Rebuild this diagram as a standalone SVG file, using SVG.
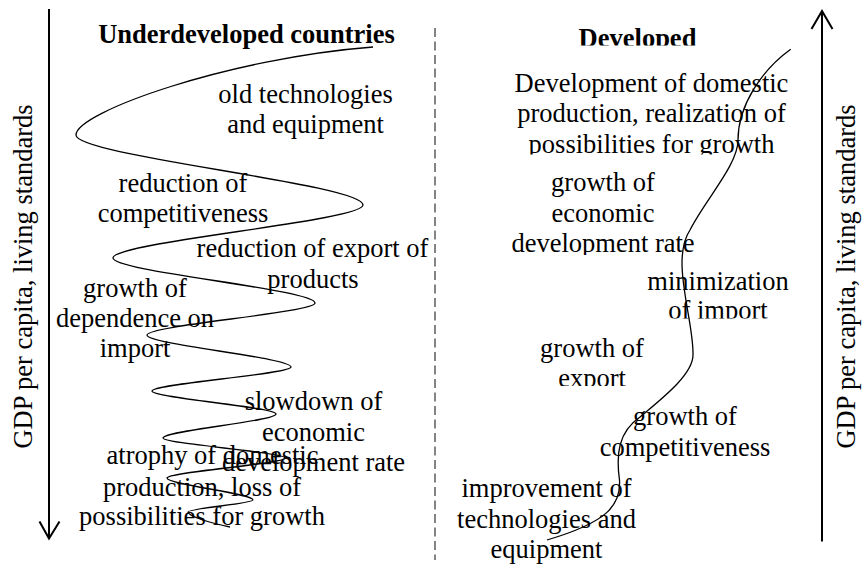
<svg xmlns="http://www.w3.org/2000/svg" width="866" height="565" viewBox="0 0 866 565">
<style>
text{font-family:"Liberation Serif","Times New Roman",serif;font-size:26.5px;fill:#000;text-anchor:middle}
.b{font-weight:bold}
.axis{stroke:#000;stroke-width:2;fill:none}
.curve{stroke:#000;stroke-width:1.3;fill:none}
.dash{stroke:#333;stroke-width:1.2;stroke-dasharray:9 4.5;fill:none}
</style>
<defs>
<clipPath id="cDev"><rect x="560" y="0" width="160" height="45.5"/></clipPath>
<clipPath id="cPos"><rect x="500" y="130" width="300" height="24.5"/></clipPath>
<clipPath id="cRate"><rect x="480" y="232" width="250" height="23"/></clipPath>
<clipPath id="cImp"><rect x="640" y="296" width="160" height="22.5"/></clipPath>
<clipPath id="cExp"><rect x="540" y="362" width="110" height="24"/></clipPath>
</defs>
<rect width="866" height="565" fill="#fff"/>
<g id="axes">
<path class="axis" d="M49,9 V538 M39.5,521.5 L49,538.5 L59.5,521.5"/>
<path class="axis" d="M822,541.5 V11.5 M811.5,29 L822,11 L832.5,29"/>
<path class="dash" d="M435,28 V560"/>
<text transform="translate(32,276.5) rotate(-90)">GDP per capita, living standards</text>
<text transform="translate(855,276.5) rotate(-90)">GDP per capita, living standards</text>
</g>
<g id="connectors">
<path id="spiral" class="curve" d="M373,47 C230,58 76,112 76,135 C76,156 363,184 363,205 C363,220.9 113,242.1 113,258 C113,271.5 315,289.5 315,303 C315,312.6 147,325.4 147,335 C147,344.6 291,357.4 291,367 C291,374.2 152,383.8 152,391 C152,397.9 276,407.1 276,414 C276,421.2 163,430.8 163,438 C163,443.7 285,452.3 285,458 C285,464 167,472 167,478 C167,484.6 253,493.4 253,500 C253,503.6 188,508.4 188,512 C188,516 210,523 230,527"/>
<path id="rise" class="curve" d="M790.7,49.3 C762,70 738,105 738,140 C738,165 705,200 690,230 C670,260 694,320 693,355 C693,375 660,400 640,417 C618,432 616,455 619.5,480 C621,505 608,522 547,540"/>
</g>
<g id="left-title"><text class="b" x="246.5" y="42.5">Underdeveloped countries</text></g>
<g id="old-tech"><text x="305.5" y="102.5">old technologies</text><text x="305.5" y="133">and equipment</text></g>
<g id="red-comp"><text x="183" y="192">reduction of</text><text x="183" y="222">competitiveness</text></g>
<g id="red-exp"><text x="312.5" y="257">reduction of export of</text><text x="313" y="288">products</text></g>
<g id="dep-imp"><text x="135" y="297">growth of</text><text x="135" y="327">dependence on</text><text x="135" y="357">import</text></g>
<g id="slowdown"><text x="313.5" y="410">slowdown of</text><text x="313.5" y="441">economic</text><text x="313.5" y="470.5">development rate</text></g>
<g id="atrophy"><text x="212.5" y="464">atrophy of domestic</text><text x="202" y="496">production, loss of</text><text x="202" y="525">possibilities for growth</text></g>
<g id="right-title"><text class="b" x="637.5" y="47" clip-path="url(#cDev)">Developed</text></g>
<g id="dev-dom"><text x="651.5" y="92">Development of domestic</text><text x="651.5" y="122">production, realization of</text><text x="651.5" y="152.5" clip-path="url(#cPos)">possibilities for growth</text></g>
<g id="growth-rate"><text x="603" y="191">growth of</text><text x="603" y="222">economic</text><text x="603" y="252" clip-path="url(#cRate)">development rate</text></g>
<g id="min-imp"><text x="718" y="290">minimization</text><text x="718" y="319" clip-path="url(#cImp)">of import</text></g>
<g id="growth-exp"><text x="592" y="357">growth of</text><text x="592" y="387" clip-path="url(#cExp)">export</text></g>
<g id="growth-comp"><text x="685" y="425">growth of</text><text x="685" y="456">competitiveness</text></g>
<g id="improve"><text x="546.5" y="497">improvement of</text><text x="546.5" y="527.5">technologies and</text><text x="546.5" y="558">equipment</text></g>
</svg>
